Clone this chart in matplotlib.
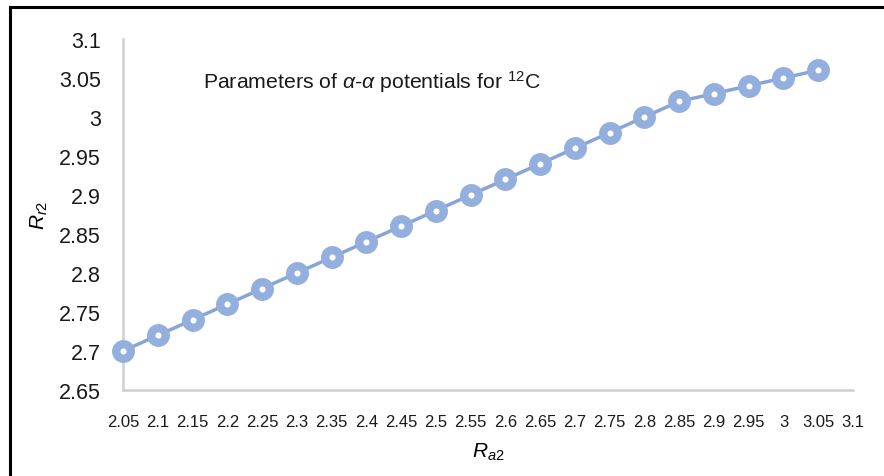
import matplotlib
matplotlib.use("Agg")
from matplotlib import pyplot as plt
from matplotlib.lines import Line2D

# data
ra2 = [2.05, 2.1, 2.15, 2.2, 2.25, 2.3, 2.35, 2.4, 2.45, 2.5, 2.55,
       2.6, 2.65, 2.7, 2.75, 2.8, 2.85, 2.9, 2.95, 3.0, 3.05]
rr2 = [2.70, 2.72, 2.74, 2.76, 2.78, 2.80, 2.82, 2.84, 2.86, 2.88, 2.90,
       2.92, 2.94, 2.96, 2.98, 3.00, 3.02, 3.03, 3.04, 3.05, 3.06]
xticks = [2.05, 2.1, 2.15, 2.2, 2.25, 2.3, 2.35, 2.4, 2.45, 2.5, 2.55,
          2.6, 2.65, 2.7, 2.75, 2.8, 2.85, 2.9, 2.95, 3.0, 3.05, 3.1]
yticks = [2.65, 2.7, 2.75, 2.8, 2.85, 2.9, 2.95, 3.0, 3.05, 3.1]

plt.rcParams['font.family'] = ['Liberation Sans', 'DejaVu Sans']
plt.rcParams['mathtext.fontset'] = 'custom'
plt.rcParams['mathtext.rm'] = 'Liberation Sans'
plt.rcParams['mathtext.it'] = 'Liberation Sans:italic'

W, H = 884, 477
fig = plt.figure(figsize=(W / 100, H / 100), dpi=100)
ax = fig.add_axes([123 / W, 1 - 391 / H, (853 - 123) / W, (391 - 40) / H])

ax.plot(ra2, rr2, color='#86A5D8', lw=2.5, marker='o', ms=10.5,
        mfc='white', mec='#93AFDD', mew=6, zorder=3, clip_on=False)

ax.set_xlim(2.05, 3.1)
ax.set_ylim(2.65, 3.1)
ax.set_xticks(xticks)
ax.set_xticklabels(['%g' % v for v in xticks])
ax.set_yticks(yticks)
ax.set_yticklabels(['%g' % v for v in yticks])
ax.tick_params(axis='both', length=0, colors='#1a1a1a')
ax.tick_params(axis='y', pad=16, labelsize=15.5)
ax.tick_params(axis='x', pad=17, labelsize=12)

for side in ['top', 'right']:
    ax.spines[side].set_visible(False)
for side in ['left', 'bottom']:
    ax.spines[side].set_color('#d0d0d0')
    ax.spines[side].set_linewidth(1.8)

ax.text(0.109, 0.88, r'Parameters of $\alpha$-$\alpha$ potentials for $^{12}$C',
        transform=ax.transAxes, fontsize=15.3, va='center', ha='left',
        color='#1a1a1a')

ax.set_xlabel(r'$R_{a2}$', fontsize=15)
ax.set_ylabel(r'$R_{r2}$', fontsize=15)
ax.xaxis.set_label_coords(0.5, -0.145)
ax.yaxis.set_label_coords(-0.10, 0.5)

# screenshot frame on the left and top
fig.add_artist(Line2D([10 / W, 1], [1 - 8 / H, 1 - 8 / H], color='black', lw=2.2,
                      transform=fig.transFigure))
fig.add_artist(Line2D([10 / W, 10 / W], [0, 1 - 8 / H], color='black', lw=2.2,
                      transform=fig.transFigure))

fig.savefig('out.png', dpi=100)
